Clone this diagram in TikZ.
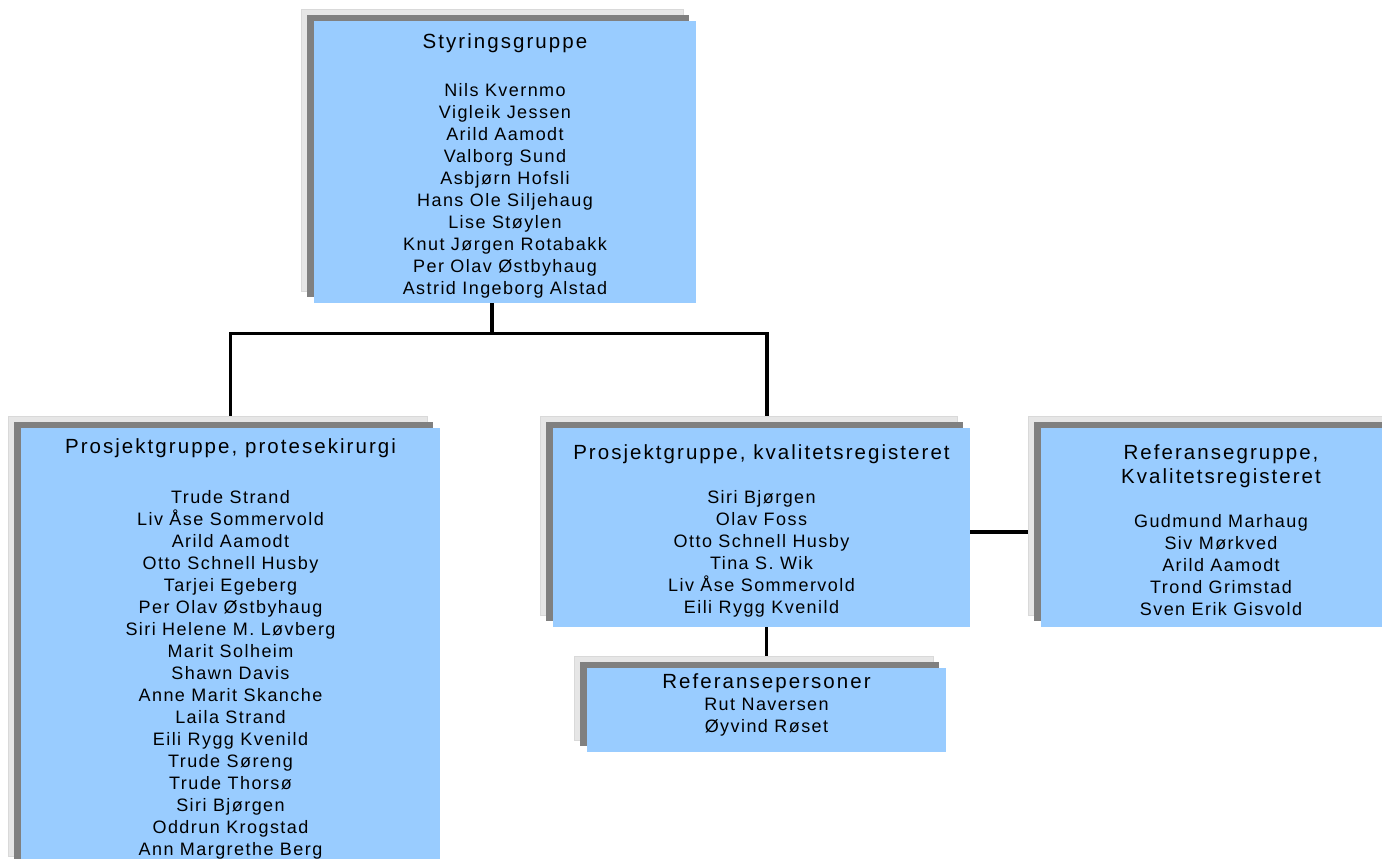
\documentclass[tikz,border=0pt]{standalone}
\usepackage{fontspec}
\setmainfont{Liberation Sans}[LetterSpace=8]
\newfontfamily\titlefam{Liberation Sans}[LetterSpace=10]
\usetikzlibrary{shadows,backgrounds}

\definecolor{orgblue}{HTML}{99CCFF}
\definecolor{orgdark}{HTML}{808080}
\definecolor{orglight}{HTML}{E6E6E6}

% title line, with extra room above it
\newcommand{\grouptitle}[2][0pt]{{\titlefam\fontsize{20.5}{22}\selectfont
  \rule{0pt}{\dimexpr15pt+#1\relax}#2}}

\tikzset{
  orgbox/.style={fill=orgblue, align=center, inner sep=0pt,
    font=\fontsize{18}{22}\selectfont,
    general shadow={fill=orglight, draw=black!15, line width=.4pt,
      shadow xshift=-13pt, shadow yshift=12pt},
    general shadow={fill=orgdark, shadow xshift=-7pt, shadow yshift=6pt}},
  link/.style={line width=3.2pt}
}

\begin{document}
\begin{tikzpicture}[x=1pt, y=-1pt]
    \useasboundingbox (0,0) rectangle (1382,859);

      %%styring
    \node[orgbox, minimum width=382pt, minimum height=282pt] (styring) at (505,162)
      {\grouptitle[8pt]{Styringsgruppe}\\[26pt]
       Nils Kvernmo\\ Vigleik Jessen\\ Arild Aamodt\\ Valborg Sund\\
       Asbjørn Hofsli\\ Hans Ole Siljehaug\\ Lise Støylen\\
       Knut Jørgen Rotabakk\\ Per Olav Østbyhaug\\ Astrid Ingeborg Alstad};

      %%protese
    \node[orgbox, minimum width=419pt, minimum height=440pt] (prot) at (230.5,648)
      {\grouptitle[2pt]{Prosjektgruppe, protesekirurgi}\\[28pt]
       Trude Strand\\ Liv Åse Sommervold\\ Arild Aamodt\\ Otto Schnell Husby\\
       Tarjei Egeberg\\ Per Olav Østbyhaug\\ Siri Helene M. Løvberg\\
       Marit Solheim\\ Shawn Davis\\ Anne Marit Skanche\\ Laila Strand\\
       Eili Rygg Kvenild\\ Trude Søreng\\ Trude Thorsø\\ Siri Bjørgen\\
       Oddrun Krogstad\\ Ann Margrethe Berg};

      %%kvalitet
    \node[orgbox, minimum width=417pt, minimum height=199pt] (kval) at (761.5,527.5)
      {\grouptitle[6pt]{Prosjektgruppe, kvalitetsregisteret}\\[22pt]
       Siri Bjørgen\\ Olav Foss\\ Otto Schnell Husby\\ Tina S. Wik\\
       Liv Åse Sommervold\\ Eili Rygg Kvenild};

      %%referansegruppe
    \node[orgbox, minimum width=360pt, minimum height=199pt] (refg) at (1221,527.5)
      {\grouptitle[6pt]{Referansegruppe,}\\[2pt]
       \grouptitle{Kvalitetsregisteret}\\[22pt]
       Gudmund Marhaug\\ Siv Mørkved\\ Arild Aamodt\\ Trond Grimstad\\
       Sven Erik Gisvold};

      %%referansepersoner
    \node[orgbox, minimum width=359pt, minimum height=84pt] (refp) at (766.5,710)
      {\grouptitle{Referansepersoner}\\
       Rut Naversen\\ Øyvind Røset\rule[-14pt]{0pt}{1pt}};

    \begin{pgfonlayer}{background}
      \coordinate (fork) at ([xshift=-13pt, yshift=-30pt]styring.south);
      \draw[link] ([xshift=-13pt]styring.south) -- (fork);
      \draw[link] (prot.north) |- (fork) -| ([xshift=5.5pt]kval.north);
      \draw[link] (kval.south -| refp.north) -- (refp.north);
      \draw[link] ([yshift=-4.5pt]kval.east) -- ([yshift=-4.5pt]kval.east -| refg.west);
    \end{pgfonlayer}

\end{tikzpicture}
\end{document}
